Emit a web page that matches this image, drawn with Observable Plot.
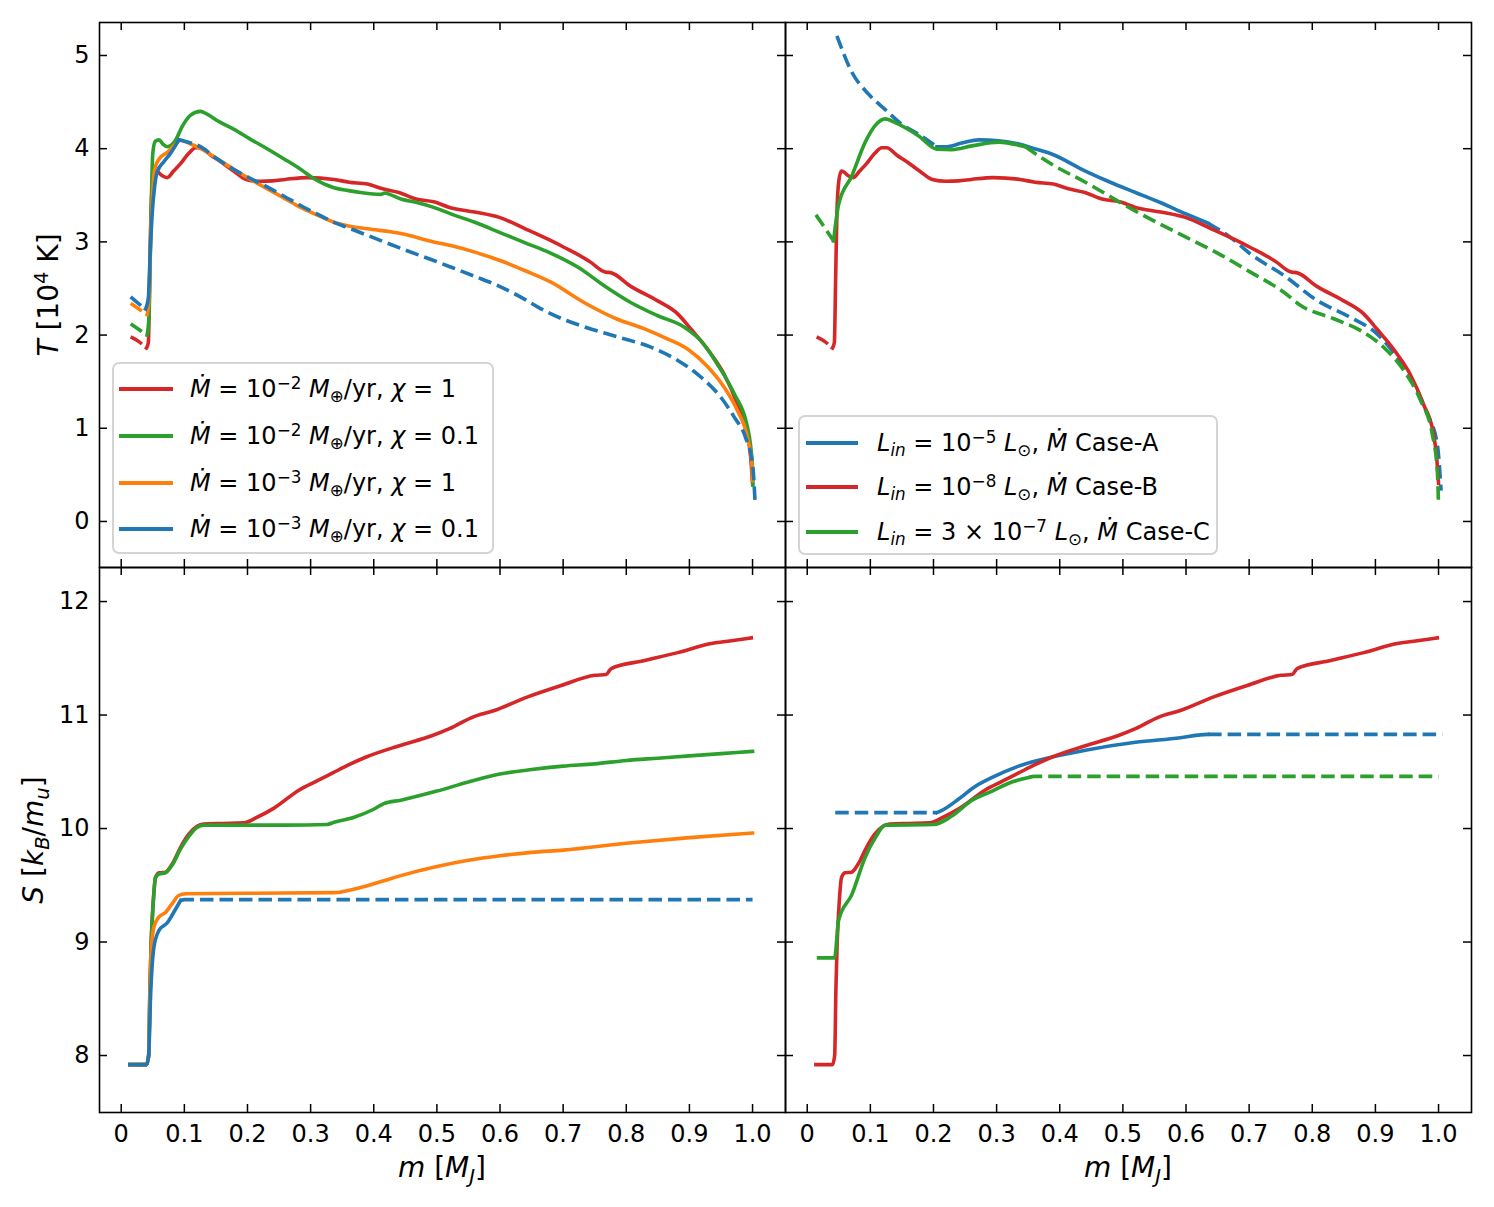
<!DOCTYPE html>
<html>
<head>
<meta charset="utf-8">
<script src="https://cdn.jsdelivr.net/npm/d3@7"></script>
<script src="https://cdn.jsdelivr.net/npm/@observablehq/plot@0.6"></script>
<style>
html,body{margin:0;padding:0;background:#fff;}
#fig{position:relative;width:1494px;height:1207px;font-family:"DejaVu Sans",sans-serif;color:#000;overflow:hidden;}
#fig svg{position:absolute;left:0;top:0;}
.lbl{position:absolute;font-size:28px;white-space:nowrap;line-height:1;}
.legend{position:absolute;box-sizing:border-box;border:2px solid #d4d4d4;border-radius:7px;background:rgba(255,255,255,0.85);}
.row{position:absolute;white-space:nowrap;font-size:24px;line-height:24px;height:24px;}
.sw{position:absolute;height:3.8px;}
.sup{font-size:70%;position:relative;top:-0.5em;}
.sub{font-size:70%;position:relative;top:0.3em;}
</style>
</head>
<body>
<div id="fig"></div>
<script>
// ---------- data ----------
const xTicks = [0, 0.1, 0.2, 0.3, 0.4, 0.5, 0.6, 0.7, 0.8, 0.9, 1.0];
const tTicks = [0, 1, 2, 3, 4, 5];
const sTicks = [8, 9, 10, 11, 12];

// Temperature [1e4 K] vs m [M_J]
const T_red = [[0.0149,1.98],[0.028,1.93],[0.040,1.86],[0.043,1.92],[0.045,2.6],[0.047,3.3],[0.050,3.65],[0.054,3.76],[0.058,3.75],[0.065,3.71],[0.073,3.69],[0.083,3.76],[0.094,3.84],[0.107,3.95],[0.118,4.01],[0.126,4.01],[0.142,3.93],[0.160,3.85],[0.178,3.76],[0.198,3.67],[0.22,3.65],[0.24,3.655],[0.26,3.67],[0.295,3.69],[0.337,3.67],[0.361,3.64],[0.39,3.62],[0.414,3.57],[0.44,3.53],[0.467,3.46],[0.495,3.43],[0.52,3.37],[0.56,3.32],[0.6,3.26],[0.64,3.14],[0.68,3.015],[0.702,2.94],[0.744,2.78],[0.762,2.69],[0.768,2.675],[0.775,2.67],[0.808,2.52],[0.849,2.37],[0.881,2.23],[0.903,2.06],[0.934,1.80],[0.955,1.58],[0.976,1.26],[0.992,0.94],[0.997,0.69],[1.0,0.41]];
const T_green_L = [[0.0149,2.12],[0.028,2.06],[0.041,2.0],[0.044,2.2],[0.047,3.2],[0.050,3.95],[0.054,4.08],[0.0597,4.095],[0.066,4.05],[0.073,4.02],[0.086,4.09],[0.0967,4.24],[0.110,4.36],[0.1257,4.40],[0.136,4.37],[0.155,4.29],[0.178,4.21],[0.205,4.10],[0.231,4.0],[0.258,3.89],[0.284,3.78],[0.305,3.68],[0.337,3.58],[0.36,3.55],[0.379,3.53],[0.411,3.51],[0.418,3.525],[0.425,3.51],[0.443,3.46],[0.47,3.42],[0.495,3.37],[0.522,3.30],[0.56,3.21],[0.6,3.10],[0.64,2.99],[0.68,2.88],[0.723,2.73],[0.765,2.53],[0.807,2.35],[0.849,2.21],[0.892,2.085],[0.918,1.94],[0.944,1.69],[0.971,1.37],[0.992,1.01],[0.9995,0.62],[1.0005,0.39]];
const T_orange = [[0.0149,2.34],[0.028,2.28],[0.041,2.22],[0.044,2.4],[0.047,3.1],[0.050,3.55],[0.053,3.78],[0.060,3.89],[0.073,3.96],[0.086,4.05],[0.094,4.09],[0.11,4.05],[0.126,4.0],[0.15,3.90],[0.178,3.78],[0.205,3.67],[0.231,3.57],[0.258,3.47],[0.284,3.37],[0.31,3.29],[0.337,3.21],[0.36,3.17],[0.39,3.14],[0.443,3.09],[0.495,3.0],[0.522,2.96],[0.56,2.89],[0.6,2.80],[0.64,2.69],[0.68,2.57],[0.733,2.35],[0.786,2.17],[0.828,2.07],[0.865,1.96],[0.897,1.85],[0.929,1.66],[0.955,1.44],[0.976,1.19],[0.992,0.90],[0.999,0.62],[1.0,0.44]];
const T_blue_L = [[0.0149,2.41],[0.027,2.34],[0.0385,2.28],[0.043,2.4],[0.046,2.9],[0.049,3.3],[0.053,3.6],[0.057,3.75],[0.0675,3.86],[0.078,3.95],[0.0913,4.095],[0.1,4.08],[0.126,4.02],[0.15,3.90],[0.178,3.78],[0.205,3.68],[0.231,3.59],[0.258,3.49],[0.284,3.39],[0.31,3.30],[0.337,3.21],[0.36,3.15],[0.39,3.07],[0.443,2.93],[0.495,2.80],[0.522,2.73],[0.56,2.63],[0.6,2.52],[0.64,2.38],[0.66,2.30],[0.68,2.23],[0.70,2.17],[0.733,2.09],[0.786,1.98],[0.839,1.87],[0.881,1.73],[0.918,1.55],[0.95,1.33],[0.971,1.12],[0.989,0.90],[1.0,0.62],[1.004,0.21]];
const T_blue_R = [[0.047,5.21],[0.0708,4.82],[0.0972,4.585],[0.1236,4.42],[0.150,4.26],[0.1764,4.155],[0.2055,4.02],[0.2187,4.02],[0.245,4.06],[0.2715,4.095],[0.303,4.085],[0.335,4.05],[0.36,4.0],[0.388,3.94],[0.4406,3.76],[0.48,3.64],[0.52,3.53],[0.56,3.42],[0.6,3.30],[0.635,3.20],[0.67,3.05],[0.702,2.87],[0.755,2.64],[0.808,2.37],[0.8605,2.19],[0.903,2.01],[0.9345,1.76],[0.961,1.48],[0.982,1.155],[0.998,0.83],[1.004,0.33]];
const T_green_R = [[0.0138,3.29],[0.028,3.15],[0.0417,3.01],[0.0497,3.40],[0.0708,3.71],[0.0919,4.07],[0.1078,4.25],[0.1236,4.32],[0.1395,4.28],[0.176,4.14],[0.2055,3.995],[0.229,3.99],[0.261,4.03],[0.303,4.07],[0.3455,4.02],[0.388,3.83],[0.4406,3.64],[0.52,3.33],[0.6,3.05],[0.65,2.88],[0.702,2.675],[0.755,2.46],[0.781,2.32],[0.834,2.175],[0.876,2.05],[0.913,1.87],[0.945,1.62],[0.9715,1.30],[0.990,0.94],[0.998,0.55],[1.0,0.17]];

// Entropy [k_B/m_u] vs m [M_J]
const S_red = [[0.0137,7.92],[0.027,7.92],[0.040,7.92],[0.0435,8.0],[0.0455,8.6],[0.0475,9.0],[0.0507,9.35],[0.0544,9.57],[0.06,9.61],[0.07,9.615],[0.081,9.69],[0.094,9.835],[0.107,9.95],[0.12,10.02],[0.131,10.04],[0.16,10.045],[0.194,10.05],[0.2155,10.10],[0.242,10.18],[0.282,10.34],[0.31,10.42],[0.335,10.49],[0.36,10.56],[0.388,10.63],[0.4406,10.73],[0.493,10.82],[0.52,10.88],[0.556,10.98],[0.591,11.04],[0.644,11.16],[0.697,11.26],[0.75,11.35],[0.768,11.357],[0.776,11.41],[0.829,11.48],[0.8816,11.55],[0.9345,11.63],[0.961,11.65],[0.998,11.68]];
const S_green_L = [[0.0137,7.92],[0.040,7.92],[0.0435,8.0],[0.0455,8.6],[0.0475,9.0],[0.0507,9.35],[0.0544,9.57],[0.06,9.60],[0.07,9.61],[0.081,9.68],[0.094,9.82],[0.107,9.93],[0.12,10.01],[0.131,10.03],[0.2,10.03],[0.26,10.03],[0.326,10.035],[0.337,10.055],[0.369,10.10],[0.40,10.17],[0.416,10.22],[0.443,10.25],[0.5,10.33],[0.55,10.41],[0.6,10.48],[0.65,10.52],[0.7,10.55],[0.75,10.57],[0.8,10.60],[0.85,10.62],[0.9,10.64],[0.95,10.66],[1.0,10.68]];
const S_orange = [[0.0137,7.92],[0.040,7.92],[0.0435,8.0],[0.0455,8.5],[0.048,8.95],[0.0517,9.13],[0.0596,9.22],[0.070,9.26],[0.081,9.34],[0.091,9.41],[0.102,9.425],[0.2,9.43],[0.337,9.435],[0.347,9.44],[0.379,9.48],[0.416,9.54],[0.443,9.585],[0.5,9.665],[0.55,9.72],[0.6,9.76],[0.65,9.79],[0.7,9.81],[0.8,9.87],[0.9,9.92],[1.0,9.96]];
const S_blue_L = [[0.0137,7.92],[0.040,7.92],[0.0435,8.0],[0.0464,8.51],[0.0517,8.95],[0.0596,9.10],[0.073,9.17],[0.083,9.26],[0.094,9.366],[0.1,9.374],[0.5,9.374],[1.0,9.374]];
const S_blue_R = [[0.0444,10.14],[0.13,10.14],[0.2055,10.14],[0.2135,10.16],[0.240,10.26],[0.266,10.37],[0.293,10.45],[0.335,10.55],[0.388,10.63],[0.4406,10.69],[0.52,10.76],[0.591,10.80],[0.623,10.825],[0.635,10.83],[0.8,10.83],[1.006,10.83]];
const S_green_R = [[0.018,8.86],[0.0433,8.86],[0.0497,9.19],[0.0708,9.42],[0.092,9.75],[0.108,9.92],[0.1236,10.03],[0.2,10.035],[0.229,10.11],[0.261,10.25],[0.293,10.33],[0.324,10.41],[0.351,10.45],[0.36,10.46],[1.0,10.46]];

// m-ranges drawn solid (outside: dashed)
const solidRange = {
  TL: {red:[0.040,2], green:[0.041,2], orange:[0.041,2], blue:[0.0385,0.0913]},
  SL: {red:[0,2], green:[0,2], orange:[0,2], blue:[0,0.094]},
  TR: {blue:[0.2055,0.635], red:[0.040,2], green:[0.0417,0.3455]},
  SR: {blue:[0.2055,0.635], red:[0,2], green:[0,0.351]}
};

const legendLeft = [
  {key:"red",    html:'<i>Ṁ</i> = 10<span class="sup">−2</span> <i>M</i><span class="sub">⊕</span>/yr,  <i>χ</i> = 1'},
  {key:"green",  html:'<i>Ṁ</i> = 10<span class="sup">−2</span> <i>M</i><span class="sub">⊕</span>/yr,  <i>χ</i> = 0.1'},
  {key:"orange", html:'<i>Ṁ</i> = 10<span class="sup">−3</span> <i>M</i><span class="sub">⊕</span>/yr,  <i>χ</i> = 1'},
  {key:"blue",   html:'<i>Ṁ</i> = 10<span class="sup">−3</span> <i>M</i><span class="sub">⊕</span>/yr,  <i>χ</i> = 0.1'}
];
const legendRight = [
  {key:"blue",  html:'<i>L<span class="sub">in</span></i> = 10<span class="sup">−5</span> <i>L</i><span class="sub">⊙</span>, <i>Ṁ</i> Case-A'},
  {key:"red",   html:'<i>L<span class="sub">in</span></i> = 10<span class="sup">−8</span> <i>L</i><span class="sub">⊙</span>, <i>Ṁ</i> Case-B'},
  {key:"green", html:'<i>L<span class="sub">in</span></i> = 3 × 10<span class="sup">−7</span> <i>L</i><span class="sub">⊙</span>, <i>Ṁ</i> Case-C'}
];

// ---------- styling / layout ----------
const COLORS = {blue:"#1f77b4", orange:"#ff7f0e", green:"#2ca02c", red:"#d62728"};
const W = 1494, H = 1207;
const xDomain = [-0.0344, 1.0522];
const tDomain = [-0.494, 5.354];
const sDomain = [7.498, 12.30];
const COLS = [[99, 785], [785, 1471]];
const ROWS = [[22, 567], [567, 1112]];

function segments(pts, lo, hi, name) {
  const out = [];
  let cur = null;
  for (const p of pts) {
    const solid = p[0] >= lo && p[0] <= hi;
    if (!cur) { cur = {solid, pts:[p]}; out.push(cur); continue; }
    if (cur.solid !== solid) {
      if (!cur.solid) { cur.pts.push(p); cur = {solid, pts:[p]}; }
      else { const last = cur.pts[cur.pts.length-1]; cur = {solid, pts:[last, p]}; }
      out.push(cur);
    } else cur.pts.push(p);
  }
  const rows = [];
  out.forEach((s, i) => s.pts.forEach(([m, v]) => rows.push({m, v, seg: name + i, solid: s.solid})));
  return rows;
}

function seriesMarks(series, ranges) {
  const marks = [];
  for (const [key, pts] of series) {
    const [lo, hi] = ranges[key];
    const rows = segments(pts, lo, hi, key);
    const common = {x:"m", y:"v", z:"seg", stroke: COLORS[key], strokeWidth: 3.6, curve:"monotone-x"};
    marks.push(Plot.line(rows.filter(d => d.solid), {...common, strokeLinecap:"square"}));
    marks.push(Plot.line(rows.filter(d => !d.solid), {...common, strokeDasharray:"13.5,6", strokeLinecap:"butt"}));
  }
  return marks;
}

function panel({col, row, yDomain, yTicks, series, ranges, xLabels, yLabels}) {
  const [l, r] = COLS[col], [t, b] = ROWS[row];
  const pw = r - l, ph = b - t;
  const marks = [
    ...seriesMarks(series, ranges),
    Plot.frame({stroke:"#000", strokeWidth:1.6}),
    Plot.tickX(xTicks, {x: d => d, insetTop: ph - 8, stroke:"#000", strokeWidth:1.5}),
    Plot.tickX(xTicks, {x: d => d, insetBottom: ph - 8, stroke:"#000", strokeWidth:1.5}),
    Plot.tickY(yTicks, {y: d => d, insetRight: pw - 8, stroke:"#000", strokeWidth:1.5}),
    Plot.tickY(yTicks, {y: d => d, insetLeft: pw - 8, stroke:"#000", strokeWidth:1.5})
  ];
  if (xLabels) marks.push(Plot.axisX({ticks: xTicks, tickSize: 0, tickPadding: 12, label: null,
    tickFormat: d => d === 0 ? "0" : d.toFixed(1)}));
  if (yLabels) marks.push(Plot.axisY({ticks: yTicks, tickSize: 0, tickPadding: 10, label: null,
    tickFormat: d => String(d)}));
  return Plot.plot({
    width: W, height: H,
    marginLeft: l, marginRight: W - r, marginTop: t, marginBottom: H - b,
    x: {domain: xDomain, axis: null},
    y: {domain: yDomain, axis: null},
    style: {background:"transparent", fontFamily:"DejaVu Sans", fontSize:"24px", color:"#000", overflow:"visible"},
    marks
  });
}

const fig = document.getElementById("fig");
fig.appendChild(panel({col:0, row:0, yDomain:tDomain, yTicks:tTicks, ranges:solidRange.TL,
  series:[["red",T_red],["green",T_green_L],["orange",T_orange],["blue",T_blue_L]], xLabels:false, yLabels:true}));
fig.appendChild(panel({col:1, row:0, yDomain:tDomain, yTicks:tTicks, ranges:solidRange.TR,
  series:[["blue",T_blue_R],["red",T_red],["green",T_green_R]], xLabels:false, yLabels:false}));
fig.appendChild(panel({col:0, row:1, yDomain:sDomain, yTicks:sTicks, ranges:solidRange.SL,
  series:[["red",S_red],["green",S_green_L],["orange",S_orange],["blue",S_blue_L]], xLabels:true, yLabels:true}));
fig.appendChild(panel({col:1, row:1, yDomain:sDomain, yTicks:sTicks, ranges:solidRange.SR,
  series:[["blue",S_blue_R],["red",S_red],["green",S_green_R]], xLabels:true, yLabels:false}));

// ---------- axis titles ----------
function label(html, cx, cy, rotate) {
  const d = document.createElement("div");
  d.className = "lbl";
  d.innerHTML = html;
  d.style.left = cx + "px";
  d.style.top = cy + "px";
  d.style.transform = "translate(-50%,-50%)" + (rotate ? " rotate(-90deg)" : "");
  fig.appendChild(d);
}
label('<i>T</i> [10<span class="sup">4</span> K]', 49, 295, true);
label('<i>S</i> [<i>k</i><span class="sub"><i>B</i></span>/<i>m</i><span class="sub"><i>u</i></span>]', 34, 840, true);
label('<i>m</i> [<i>M</i><span class="sub"><i>J</i></span>]', 442, 1168, false);
label('<i>m</i> [<i>M</i><span class="sub"><i>J</i></span>]', 1128, 1168, false);

// ---------- legends ----------
function legend(items, box, rowYs, swX, textX) {
  const d = document.createElement("div");
  d.className = "legend";
  Object.assign(d.style, {left: box[0]+"px", top: box[1]+"px", width: (box[2]-box[0])+"px", height: (box[3]-box[1])+"px"});
  fig.appendChild(d);
  items.forEach((it, i) => {
    const sw = document.createElement("div");
    sw.className = "sw";
    Object.assign(sw.style, {left: swX[0]+"px", width: (swX[1]-swX[0])+"px", top: (rowYs[i]-1.9)+"px", background: COLORS[it.key]});
    fig.appendChild(sw);
    const t = document.createElement("div");
    t.className = "row";
    t.innerHTML = it.html;
    Object.assign(t.style, {left: textX+"px", top: (rowYs[i]-12)+"px"});
    fig.appendChild(t);
  });
}
legend(legendLeft, [112, 362, 494, 554], [389, 436, 483, 529], [119, 173], 190);
legend(legendRight, [798, 415, 1218, 555], [443, 487, 532], [806, 858], 877);
</script>
</body>
</html>
